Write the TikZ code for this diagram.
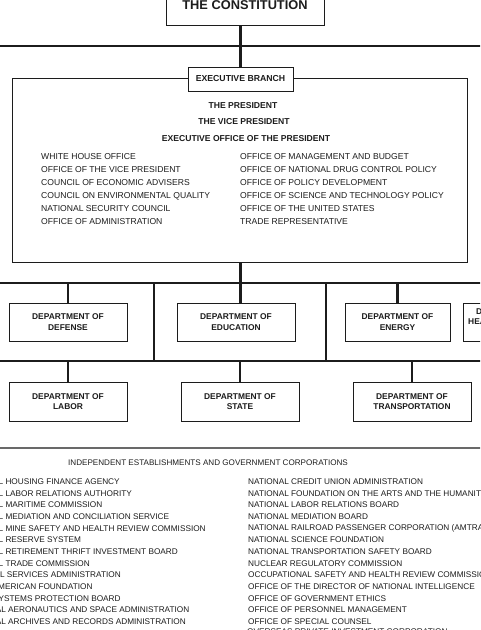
\documentclass[tikz,border=0pt]{standalone}
\usepackage{fontspec}
\setmainfont{Liberation Sans}
\definecolor{chartink}{RGB}{28,28,28}
\definecolor{rulegray}{RGB}{105,105,105}
\usetikzlibrary{positioning}

\begin{document}
\begin{tikzpicture}[
  x=1pt, y=-1pt,
  deptbox/.style={
    draw=chartink, line width=0.9pt,
    fill=white,
    minimum width=118pt, minimum height=38pt,
    font=\fontsize{8.4}{10.5}\selectfont\bfseries, text=chartink,
    align=center, inner sep=0pt
  },
  orgtitle/.style={
    font=\fontsize{8.6}{10}\selectfont\bfseries, text=chartink,
    inner sep=0pt
  },
  listitem/.style={
    font=\fontsize{8.6}{10}\selectfont, text=chartink,
    anchor=west, inner sep=0pt
  },
  agency/.style={
    font=\fontsize{8.25}{10}\selectfont, text=chartink,
    anchor=west, inner sep=0pt
  },
  bus/.style={line width=2.8pt, draw=chartink},
  link/.style={line width=2.6pt, draw=chartink},
  sepline/.style={line width=1.3pt, draw=rulegray}
]
\useasboundingbox (0,0) rectangle (480,630);
\clip (0,0) rectangle (480,630);

\coordinate (busA-w) at (-5,46);
\coordinate (busA-e) at (485,46);
\coordinate (busB-w) at (-5,283);
\coordinate (busB-e) at (485,283);
\coordinate (busC-w) at (-5,361);
\coordinate (busC-e) at (485,361);
\coordinate (postL) at (154,283);
\coordinate (postR) at (326,283);
\coordinate (sep-w) at (-5,448);
\coordinate (sep-e) at (485,448);

\draw[bus] (busA-w) -- (busA-e);
\draw[bus] (busB-w) -- (busB-e);
\draw[bus] (busC-w) -- (busC-e);
\draw[bus] (postL) -- (postL |- busC-w);
\draw[bus] (postR) -- (postR |- busC-w);
\draw[sepline] (sep-w) -- (sep-e);

\node[deptbox, minimum width=158pt, minimum height=41pt,
  font=\fontsize{12.8}{14}\selectfont\bfseries] (const) at (245,4.7) {THE CONSTITUTION};

\node[draw=chartink, line width=0.9pt, minimum width=455pt, minimum height=184pt] (execbox) at (239.5,170) {};
\node[deptbox, minimum width=105pt, minimum height=24pt,
  font=\fontsize{8.7}{10}\selectfont\bfseries] (exec) at (240.5,79) {EXECUTIVE BRANCH};

\draw[bus] (const.south -| exec.north) -- (exec.north);
\draw[bus] (execbox.south -| exec.north) -- (exec.north |- busB-w);

\node[orgtitle] (pres) at (243,106) {THE PRESIDENT};
\node[orgtitle] (vp) at (244,122) {THE VICE PRESIDENT};
\node[orgtitle] (eop) at (246,139) {EXECUTIVE OFFICE OF THE PRESIDENT};

\node[listitem] (w1) at (41,157) {WHITE HOUSE OFFICE};
\node[listitem] (w2) at (41,170) {OFFICE OF THE VICE PRESIDENT};
\node[listitem] (w3) at (41,183) {COUNCIL OF ECONOMIC ADVISERS};
\node[listitem] (w4) at (41,196) {COUNCIL ON ENVIRONMENTAL QUALITY};
\node[listitem] (w5) at (41,209) {NATIONAL SECURITY COUNCIL};
\node[listitem] (w6) at (41,222) {OFFICE OF ADMINISTRATION};
\node[listitem] (m1) at (240,157) {OFFICE OF MANAGEMENT AND BUDGET};
\node[listitem] (m2) at (240,170) {OFFICE OF NATIONAL DRUG CONTROL POLICY};
\node[listitem] (m3) at (240,183) {OFFICE OF POLICY DEVELOPMENT};
\node[listitem] (m4) at (240,196) {OFFICE OF SCIENCE AND TECHNOLOGY POLICY};
\node[listitem] (m5) at (240,209) {OFFICE OF THE UNITED STATES};
\node[listitem] (m6) at (240,222) {TRADE REPRESENTATIVE};

\node[deptbox] (def) at (68,322) {DEPARTMENT OF\\DEFENSE};
\node[deptbox] (edu) at (236,322) {DEPARTMENT OF\\EDUCATION};
\node[deptbox, minimum width=105pt] (ene) at (397.5,322) {DEPARTMENT OF\\ENERGY};
\node[deptbox, minimum width=98pt] (hhs) at (512,322) {DEPARTMENT OF\\HEALTH AND HUMAN\\SERVICES};
\node[deptbox, minimum height=39pt] (lab) at (68,401.5) {DEPARTMENT OF\\LABOR};
\node[deptbox, minimum height=39pt] (sta) at (240,401.5) {DEPARTMENT OF\\STATE};
\node[deptbox, minimum height=39pt] (tra) at (412,401.5) {DEPARTMENT OF\\TRANSPORTATION};

\draw[link] (def.north) -- (def.north |- busB-w);
\draw[link] (edu.north -| exec.north) -- (exec.north |- busB-w);
\draw[link] (ene.north) -- (ene.north |- busB-w);
\draw[link] (hhs.north) -- (hhs.north |- busB-w);
\draw[link] (lab.north) -- (lab.north |- busC-w);
\draw[link] (sta.north) -- (sta.north |- busC-w);
\draw[link] (tra.north) -- (tra.north |- busC-w);

\node[agency, anchor=center, font=\fontsize{8.1}{10}\selectfont] (indep) at (208,463) {INDEPENDENT ESTABLISHMENTS AND GOVERNMENT CORPORATIONS};

\node[agency] (ia1) at (-35,481.5) {FEDERAL HOUSING FINANCE AGENCY};
\node[agency] (ia2) at (-35,493.2) {FEDERAL LABOR RELATIONS AUTHORITY};
\node[agency] (ia3) at (-35,504.8) {FEDERAL MARITIME COMMISSION};
\node[agency] (ia4) at (-35,516.5) {FEDERAL MEDIATION AND CONCILIATION SERVICE};
\node[agency] (ia5) at (-35,528.2) {FEDERAL MINE SAFETY AND HEALTH REVIEW COMMISSION};
\node[agency] (ia6) at (-35,539.9) {FEDERAL RESERVE SYSTEM};
\node[agency] (ia7) at (-35,551.5) {FEDERAL RETIREMENT THRIFT INVESTMENT BOARD};
\node[agency] (ia8) at (-35,563.2) {FEDERAL TRADE COMMISSION};
\node[agency] (ia9) at (-35,574.9) {GENERAL SERVICES ADMINISTRATION};
\node[agency] (ia10) at (-35,586.5) {INTER-AMERICAN FOUNDATION};
\node[agency] (ia11) at (-35,598.2) {MERIT SYSTEMS PROTECTION BOARD};
\node[agency] (ia12) at (-35,609.9) {NATIONAL AERONAUTICS AND SPACE ADMINISTRATION};
\node[agency] (ia13) at (-35,621.5) {NATIONAL ARCHIVES AND RECORDS ADMINISTRATION};

\node[agency] (ib1) at (248,481.5) {NATIONAL CREDIT UNION ADMINISTRATION};
\node[agency] (ib2) at (248,493.2) {NATIONAL FOUNDATION ON THE ARTS AND THE HUMANITIES};
\node[agency] (ib3) at (248,504.8) {NATIONAL LABOR RELATIONS BOARD};
\node[agency] (ib4) at (248,516.5) {NATIONAL MEDIATION BOARD};
\node[agency] (ib5) at (248,528.2) {NATIONAL RAILROAD PASSENGER CORPORATION (AMTRAK)};
\node[agency] (ib6) at (248,539.9) {NATIONAL SCIENCE FOUNDATION};
\node[agency] (ib7) at (248,551.5) {NATIONAL TRANSPORTATION SAFETY BOARD};
\node[agency] (ib8) at (248,563.2) {NUCLEAR REGULATORY COMMISSION};
\node[agency] (ib9) at (248,574.9) {OCCUPATIONAL SAFETY AND HEALTH REVIEW COMMISSION};
\node[agency] (ib10) at (248,586.5) {OFFICE OF THE DIRECTOR OF NATIONAL INTELLIGENCE};
\node[agency] (ib11) at (248,598.2) {OFFICE OF GOVERNMENT ETHICS};
\node[agency] (ib12) at (248,609.9) {OFFICE OF PERSONNEL MANAGEMENT};
\node[agency] (ib13) at (248,621.5) {OFFICE OF SPECIAL COUNSEL};
\node[agency] (ib14) at (247,631.5) {OVERSEAS PRIVATE INVESTMENT CORPORATION};
\end{tikzpicture}
\end{document}
